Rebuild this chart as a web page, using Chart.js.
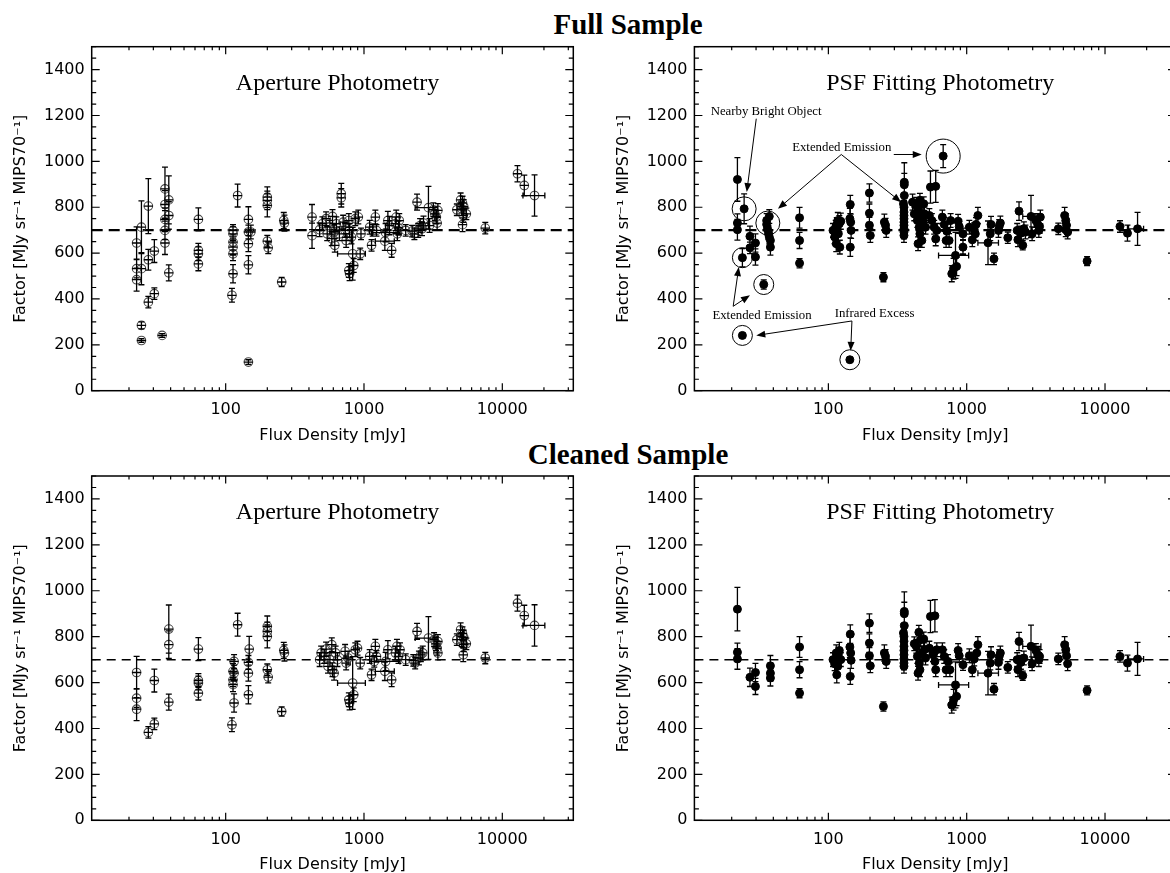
<!DOCTYPE html>
<html>
<head>
<meta charset="utf-8">
<script src="https://cdn.jsdelivr.net/npm/chart.js@4.4.1/dist/chart.umd.min.js"></script>
<style>
  html, body { margin: 0; padding: 0; background: #fff; overflow: hidden; }
  #wrap { position: relative; width: 1170px; height: 873px; overflow: hidden; }
  canvas { position: absolute; }
  .head { position: absolute; font: bold 29px "Liberation Serif", "Times New Roman", serif; color: #000;
          white-space: nowrap; transform: translateX(-50%); line-height: normal; }
</style>
</head>
<body>
<div id="wrap">
  <div class="head" style="left:628px; top:8px">Full Sample</div>
  <div class="head" style="left:628px; top:438px">Cleaned Sample</div>
  <canvas id="p1" width="590" height="450" style="left:0px; top:0px"></canvas>
  <canvas id="p2" width="590" height="450" style="left:600px; top:0px"></canvas>
  <canvas id="p3" width="590" height="423" style="left:0px; top:450px"></canvas>
  <canvas id="p4" width="590" height="423" style="left:600px; top:450px"></canvas>
</div>
<script>
// axes
const xMin = 10.75, xMax = 32600;
const yMin = 0, yMax = 1500;
const xTicks = [100, 1000, 10000];
const yTicks = [0, 200, 400, 600, 800, 1000, 1200, 1400];
const refLevel = 700;

// full sample, aperture photometry
const apAllX = [22.7,22.7,22.7,24.6,24.6,24.6,24.6,27.6,27.6,27.6,30.5,30.5,34.7,36.4,36.4,36.4,36.4,36.4,38.8,38.8,38.8,63.5,63.5,63.5,63.5,111,113,113,113,113,113,113,122,146,146,146,146,146,152,200,200,200,200,203,254,263,266,421,421,478,500,532,542,567,585,592,608,615,631,664,685,685,707,730,743,777,787,812,777,787,828,843,865,910,939,951,1099,1134,1156,1208,1231,1415,1433,1488,1526,1585,1688,1710,1742,1776,1798,2002,2228,2314,2419,2465,2544,2626,2693,2924,2979,3172,3253,3336,3379,3421,4692,4994,5155,5254,5090,5220,5155,5492,7530,12870,14420,17100];
const apAllY = [644,532,484,713,532,285,219,805,571,386,609,423,241,880,812,747,699,644,832,764,514,747,612,597,553,416,699,684,648,626,597,510,851,747,692,641,549,125,692,844,830,808,652,623,474,742,731,757,676,702,728,750,684,713,663,760,692,634,728,684,859,841,735,699,655,742,699,670,524,510,597,546,750,757,597,684,713,634,699,757,699,652,689,742,720,612,728,757,684,709,742,699,696,684,822,699,720,706,731,798,720,789,771,757,731,786,789,832,818,803,793,764,724,771,709,946,895,851];
const apAllErr = [70,40,50,115,70,15,8,120,45,25,50,25,8,95,60,50,40,50,105,60,35,50,30,30,30,30,25,30,35,35,30,40,50,55,30,35,40,10,30,45,40,50,25,25,20,35,35,55,55,30,30,30,30,30,30,30,30,30,30,30,45,40,30,30,30,30,30,30,30,30,115,30,30,30,25,25,30,25,25,30,25,40,40,40,40,30,30,30,30,30,30,25,25,25,35,30,30,30,30,93,30,30,30,30,30,30,25,30,30,30,30,30,30,25,25,35,45,90];

// cleaned sample, aperture photometry
const apCleanX = [22.7,22.7,22.7,27.6,30.5,30.5,38.8,38.8,38.8,63.5,63.5,63.5,63.5,111,115,113,115,113,113,115,122,146,148,146,146,200,200,200,200,203,254,263,266,478,490,516,532,549,567,585,592,608,623,643,730,743,767,777,787,828,843,865,898,939,1099,1134,1186,1208,1231,1415,1433,1488,1585,1688,1731,1776,1821,2002,2271,2344,2419,2496,2576,2659,2924,3212,3315,3379,3421,3421,4692,4994,5155,5254,5090,5254,5220,5492,7530,12870,14420,17100];
const apCleanY = [644,532,484,383,609,420,833,765,515,746,609,598,554,416,692,649,641,612,591,511,852,641,746,688,547,845,823,801,656,624,474,740,729,700,729,714,746,671,700,765,656,641,729,700,736,685,707,525,511,598,547,743,750,685,714,634,692,758,714,649,692,743,612,729,758,714,743,700,697,685,823,707,721,729,794,787,769,750,729,779,787,830,813,798,787,765,721,769,707,946,892,849];
const apCleanErr = [70,40,50,25,50,25,105,60,35,50,30,30,30,30,30,35,35,30,30,40,50,35,55,30,40,45,40,50,25,25,20,35,35,30,30,30,30,30,30,30,30,30,30,30,30,30,30,30,30,115,30,30,30,25,30,25,25,30,25,40,40,40,30,30,30,30,30,25,25,25,35,30,30,30,93,30,30,30,30,30,25,30,30,30,30,30,30,25,25,35,45,90];

// horizontal error bars, aperture photometry
const apBarX = [828, 1415, 1433, 2924, 17100];
const apBarLo = [644, 1208, 1134, 2344, 14100];
const apBarHi = [1023, 1656, 1821, 3421, 20300];
const apAllBarY = [597, 652, 689, 798, 851];
const apCleanBarY = [598, 649, 692, 794, 849];

// full sample, PSF fitting photometry
const psfAllX = [22.0,22.0,22.0,24.6,23.9,23.9,27.1,27.1,29.7,29.7,34.1,35.8,35.8,36.3,36.9,37.4,38.1,38.1,37.4,61.9,61.9,61.9,108,111,113,114,117,118,120,121,123,115,144,143,145,146,144,143,198,198,198,201,250,254,259,262,354,354,354,349,352,352,352,352,352,352,352,352,352,406,418,432,440,451,454,459,465,474,483,489,495,504,445,459,547,597,537,560,582,597,608,676,667,688,710,719,746,765,780,804,830,845,867,883,940,940,1045,1098,1133,1168,1205,1154,1426,1480,1499,1575,1697,1718,1751,1983,2317,2346,2390,2465,2543,2591,2657,2917,2972,3162,3262,3323,3365,3407,4595,5107,5203,5269,5368,5203,7420,12830,14530,17190];
const psfAllY = [921,731,702,793,580,241,673,623,644,583,463,742,725,706,689,670,655,626,760,754,655,556,699,670,713,641,742,684,728,626,739,725,812,750,735,699,626,135,862,774,721,677,495,735,721,699,909,898,851,815,800,779,764,750,735,721,706,692,677,822,771,808,742,793,713,684,771,655,742,815,771,713,641,830,888,891,764,742,713,662,699,1023,757,725,655,696,655,742,510,532,590,542,739,716,684,626,713,658,702,725,764,684,645,684,725,575,699,716,731,667,699,658,783,687,634,706,692,760,684,742,725,699,716,757,706,764,742,721,692,702,565,716,687,706];
const psfAllErr = [95,40,45,65,40,10,45,25,40,35,20,30,30,30,30,30,30,35,30,45,35,20,30,30,30,35,35,30,35,30,35,30,40,45,35,35,40,10,40,40,35,30,20,35,30,30,85,50,50,40,30,30,30,30,30,30,30,30,30,35,30,35,30,30,30,30,30,30,30,30,30,30,30,30,70,70,30,30,30,30,30,50,30,30,30,30,30,30,35,45,100,40,30,30,25,30,30,30,30,30,35,30,95,30,35,25,30,30,30,25,30,30,40,30,20,30,30,92,30,30,30,30,30,30,25,35,30,30,30,30,20,25,35,72];

// cleaned sample, PSF fitting photometry
const psfCleanX = [22.0,22.0,22.0,27.1,29.7,29.7,38.1,38.1,38.1,61.9,61.9,61.9,108,111,114,115,117,118,120,123,144,143,145,146,144,198,198,198,201,250,254,259,262,354,354,354,349,352,352,352,352,352,352,352,352,451,465,489,432,474,440,454,459,445,495,504,418,547,589,537,571,589,597,608,667,688,710,733,756,780,804,830,845,867,883,940,1045,1098,1133,1183,1205,1426,1480,1499,1575,1697,1718,1751,1983,2317,2346,2390,2465,2543,2591,2917,2972,3162,3262,3323,3365,4595,5107,5203,5269,5368,7420,12830,14530,17190];
const psfCleanY = [920,732,703,623,644,583,673,641,620,755,656,554,700,682,729,634,671,721,740,700,811,755,729,697,627,859,772,717,673,496,729,714,692,910,900,848,816,801,780,758,740,721,703,685,671,819,787,790,758,729,714,685,656,641,743,707,769,888,891,750,721,692,656,743,743,714,656,692,656,502,525,590,540,740,717,678,717,656,703,729,765,641,685,721,571,688,714,729,666,700,656,779,688,630,707,758,682,740,721,700,714,703,765,743,717,682,566,714,685,703];
const psfCleanErr = [95,40,45,40,40,35,45,35,35,45,35,20,30,30,35,35,30,30,35,30,40,45,35,35,35,40,40,35,30,20,35,30,30,85,50,50,40,30,30,30,30,30,30,30,30,30,30,30,30,30,30,30,30,30,30,30,30,70,70,30,30,30,30,30,30,30,30,30,30,35,45,100,40,30,30,25,30,30,30,30,35,95,30,35,25,30,30,30,25,30,30,40,30,20,30,92,30,30,30,30,30,25,35,30,30,30,20,25,35,72];

// horizontal error bars, PSF fitting photometry
const psfBarX = [830, 1426, 2917, 17190];
const psfBarLo = [626, 1205, 2543, 14800];
const psfBarHi = [1033, 1697, 3440, 19000];
const psfAllBarY = [590, 645, 760, 706];
const psfCleanBarY = [590, 641, 758, 703];

// notes on the full PSF panel (data coordinates)
const noteText = ['Nearby Bright Object', 'Extended Emission', 'Extended Emission', 'Infrared Excess'];
const noteX = [14.1, 54.7, 14.5, 111];
const noteY = [1217, 1062, 328, 336];
const ringX = [24.6, 23.9, 34.1, 23.9, 36.5, 143, 676];
const ringY = [793, 580, 463, 241, 731, 135, 1023];
const arrowFromX = [30.1, 124, 124, 297, 20.5, 20.5, 148, 148];
const arrowFromY = [1186, 1030, 1030, 1030, 368, 368, 304, 304];
const arrowToX = [25.7, 43.2, 336, 473, 22.5, 27.1, 30.1, 145];
const arrowToY = [866, 793, 822, 1030, 539, 416, 241, 174];
const ringR = [12, 10, 10, 10, 12, 10, 17];

const sans = '"DejaVu Sans", sans-serif';
const serif = '"Liberation Serif", "Times New Roman", serif';

const pts = (xs, ys) => xs.map((v, i) => ({ x: v, y: ys[i] }));

// error bars drawn through the chart scales
const errorBars = {
  id: 'errorBars',
  afterDatasetsDraw(chart) {
    const { ctx, scales: { x, y } } = chart;
    chart.data.datasets.forEach(ds => {
      if (!ds.errY) return;
      ctx.save();
      ctx.strokeStyle = '#000';
      ctx.lineWidth = 1.3;
      ctx.beginPath();
      ds.data.forEach((p, j) => {
        const px = x.getPixelForValue(p.x);
        const y0 = y.getPixelForValue(p.y - ds.errY[j]);
        const y1 = y.getPixelForValue(p.y + ds.errY[j]);
        ctx.moveTo(px, y0); ctx.lineTo(px, y1);
        ctx.moveTo(px - 3, y0); ctx.lineTo(px + 3, y0);
        ctx.moveTo(px - 3, y1); ctx.lineTo(px + 3, y1);
        if (ds.open) {
          const py = y.getPixelForValue(p.y);
          ctx.moveTo(px - 4.5, py); ctx.lineTo(px + 4.5, py);
        }
      });
      ds.barX.forEach((bx, k) => {
        const py = y.getPixelForValue(ds.barY[k]);
        const a = x.getPixelForValue(ds.barLo[k]), b = x.getPixelForValue(ds.barHi[k]);
        ctx.moveTo(a, py); ctx.lineTo(b, py);
        ctx.moveTo(a, py - 3); ctx.lineTo(a, py + 3);
        ctx.moveTo(b, py - 3); ctx.lineTo(b, py + 3);
      });
      ctx.stroke();
      ctx.restore();
    });
  }
};

// IDL style box with inward ticks on all four sides
const idlAxes = {
  id: 'idlAxes',
  afterDraw(chart) {
    const { ctx, chartArea: a, scales: { x, y } } = chart;
    ctx.save();
    ctx.strokeStyle = '#000';
    ctx.lineWidth = 1.5;
    ctx.strokeRect(a.left, a.top, a.right - a.left, a.bottom - a.top);
    ctx.lineWidth = 1.2;
    ctx.beginPath();
    for (let v = yMin; v <= yMax; v += 50) {
      const py = y.getPixelForValue(v);
      const len = v % 200 === 0 ? 8 : 4.5;
      ctx.moveTo(a.left, py); ctx.lineTo(a.left + len, py);
      ctx.moveTo(a.right, py); ctx.lineTo(a.right - len, py);
    }
    for (let d = 10; d <= xMax; d *= 10) {
      for (let k = 1; k < 10; k++) {
        const v = d * k;
        if (v < xMin || v > xMax) continue;
        const px = x.getPixelForValue(v);
        const len = k === 1 ? 7.5 : 3.5;
        ctx.moveTo(px, a.bottom); ctx.lineTo(px, a.bottom - len);
        ctx.moveTo(px, a.top); ctx.lineTo(px, a.top + len);
      }
    }
    ctx.stroke();
    ctx.restore();
  }
};

const panelLabel = {
  id: 'panelLabel',
  afterDraw(chart, args, opts) {
    const { ctx, chartArea: a, scales: { y } } = chart;
    ctx.save();
    ctx.fillStyle = '#000';
    ctx.font = '24px ' + serif;
    ctx.textAlign = 'center';
    ctx.textBaseline = 'alphabetic';
    ctx.fillText(opts.text, (a.left + a.right) / 2 + 5, y.getPixelForValue(1400) + 20);
    ctx.restore();
  }
};

const notes = {
  id: 'notes',
  afterDraw(chart) {
    const { ctx, scales: { x, y } } = chart;
    ctx.save();
    ctx.strokeStyle = '#000';
    ctx.fillStyle = '#000';
    ctx.lineWidth = 1;
    ringX.forEach((v, i) => {
      ctx.beginPath();
      ctx.arc(x.getPixelForValue(v), y.getPixelForValue(ringY[i]), ringR[i], 0, Math.PI * 2);
      ctx.stroke();
    });
    arrowFromX.forEach((v, i) => {
      const x0 = x.getPixelForValue(v), y0 = y.getPixelForValue(arrowFromY[i]);
      const x1 = x.getPixelForValue(arrowToX[i]), y1 = y.getPixelForValue(arrowToY[i]);
      const ang = Math.atan2(y1 - y0, x1 - x0);
      ctx.beginPath();
      ctx.moveTo(x0, y0); ctx.lineTo(x1 - 6 * Math.cos(ang), y1 - 6 * Math.sin(ang));
      ctx.stroke();
      ctx.beginPath();
      ctx.moveTo(x1, y1);
      ctx.lineTo(x1 - 9 * Math.cos(ang) + 3.5 * Math.sin(ang), y1 - 9 * Math.sin(ang) - 3.5 * Math.cos(ang));
      ctx.lineTo(x1 - 9 * Math.cos(ang) - 3.5 * Math.sin(ang), y1 - 9 * Math.sin(ang) + 3.5 * Math.cos(ang));
      ctx.closePath();
      ctx.fill();
    });
    ctx.font = '12.8px ' + serif;
    ctx.textAlign = 'left';
    ctx.textBaseline = 'middle';
    noteText.forEach((t, i) => ctx.fillText(t, x.getPixelForValue(noteX[i]), y.getPixelForValue(noteY[i])));
    ctx.restore();
  }
};

function makePanel(id, place, label, xs, ys, errs, bar, open, line, extra) {
  const { cx, cy, cw, ch, L, T, R, B } = place;
  const points = {
    type: 'scatter',
    data: pts(xs, ys),
    errY: errs,
    barX: bar.x, barY: bar.y, barLo: bar.lo, barHi: bar.hi,
    open: open,
    pointRadius: open ? 4.3 : 4,
    pointBorderWidth: open ? 1.1 : 1,
    pointBorderColor: open ? '#4a4a4a' : '#000',
    pointBackgroundColor: open ? 'rgba(0,0,0,0)' : '#000',
    order: 1
  };
  const ref = {
    type: 'scatter',
    data: [{ x: xMin, y: refLevel }, { x: xMax, y: refLevel }],
    showLine: true,
    borderColor: '#000',
    borderWidth: line.w,
    borderDash: line.dash,
    pointRadius: 0,
    order: 2
  };
  return new Chart(document.getElementById(id), {
    type: 'scatter',
    data: { datasets: [ref, points] },
    options: {
      responsive: false,
      animation: false,
      events: [],
      layout: { padding: { left: 0, top: T - cy, right: cx + cw - R, bottom: 0 } },
      plugins: { legend: { display: false }, tooltip: { enabled: false }, panelLabel: { text: label } },
      scales: {
        x: {
          type: 'logarithmic',
          min: xMin, max: xMax,
          afterBuildTicks: s => { s.ticks = xTicks.map(v => ({ value: v })); },
          afterFit: s => { s.height = cy + ch - B; },
          grid: { display: false, drawTicks: false },
          border: { display: false },
          ticks: { color: '#000', font: { family: sans, size: 16 }, padding: 10, maxRotation: 0, autoSkip: false,
                   callback: v => String(v) },
          title: { display: true, text: 'Flux Density [mJy]', color: '#000', font: { family: sans, size: 16 },
                   padding: { top: 0, bottom: (cy + ch) - (B + 45) - 9.6 } }
        },
        y: {
          type: 'linear',
          min: yMin, max: yMax,
          afterBuildTicks: s => { s.ticks = yTicks.map(v => ({ value: v })); },
          afterFit: s => { s.width = L - cx; },
          grid: { display: false, drawTicks: false },
          border: { display: false },
          ticks: { color: '#000', font: { family: sans, size: 16 }, padding: 7, callback: v => String(v) },
          title: { display: true, text: 'Factor [MJy sr\u207B\u00B9 MIPS70\u207B\u00B9]', color: '#000',
                   font: { family: sans, size: 16 }, padding: { top: (L - cx) - 70.6 - 9.6, bottom: 0 } }
        }
      }
    },
    plugins: [errorBars, idlAxes, panelLabel].concat(extra || [])
  });
}

const topLine = { w: 2.3, dash: [11, 6] };
const lowLine = { w: 1.5, dash: [9, 6] };

makePanel('p1', { cx: 0, cy: 0, cw: 590, ch: 450, L: 91.7, T: 46.7, R: 573.3, B: 390.7 },
  'Aperture Photometry', apAllX, apAllY, apAllErr,
  { x: apBarX, y: apAllBarY, lo: apBarLo, hi: apBarHi }, true, topLine);

makePanel('p2', { cx: 600, cy: 0, cw: 590, ch: 450, L: 694.4, T: 46.7, R: 1176, B: 390.7 },
  'PSF Fitting Photometry', psfAllX, psfAllY, psfAllErr,
  { x: psfBarX, y: psfAllBarY, lo: psfBarLo, hi: psfBarHi }, false, topLine, [notes]);

makePanel('p3', { cx: 0, cy: 450, cw: 590, ch: 423, L: 91.7, T: 476, R: 573.3, B: 820.3 },
  'Aperture Photometry', apCleanX, apCleanY, apCleanErr,
  { x: apBarX, y: apCleanBarY, lo: apBarLo, hi: apBarHi }, true, lowLine);

makePanel('p4', { cx: 600, cy: 450, cw: 590, ch: 423, L: 694.4, T: 476, R: 1176, B: 820.3 },
  'PSF Fitting Photometry', psfCleanX, psfCleanY, psfCleanErr,
  { x: psfBarX, y: psfCleanBarY, lo: psfBarLo, hi: psfBarHi }, false, lowLine);
</script>
</body>
</html>
